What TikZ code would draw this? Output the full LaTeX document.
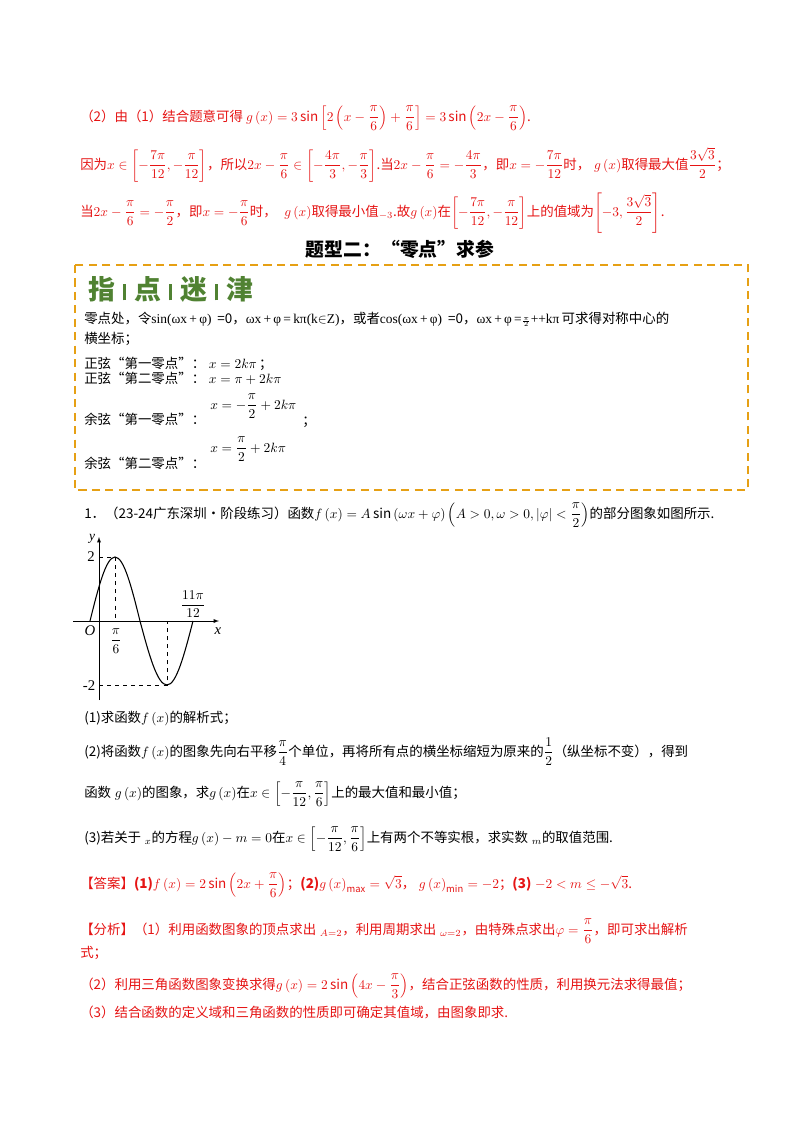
\documentclass[tikz,border=0pt]{standalone}
\usepackage{amsmath}
\usepackage{fontspec}
\setmainfont{Noto Sans CJK SC}
\newfontfamily\serf{Liberation Serif}
\definecolor{rd}{RGB}{230,20,20}
\definecolor{org}{RGB}{230,160,20}
\definecolor{grn}{RGB}{80,130,50}
\newcommand{\gsep}{\hspace{6pt}\rule[-1pt]{2.2pt}{12pt}\hspace{6pt}}
\begin{document}
\begin{tikzpicture}[x=0.744pt,y=-0.744pt,
  t/.style={anchor=base west,inner sep=0pt,font=\fontsize{10}{12}\selectfont},
  r/.style={t,text=rd}]
\useasboundingbox[fill=white] (0,0) rectangle (800,1132);
\node[r] (l1) at (80,121) {（2）由（1）结合题意可得 $g\left(x\right)=3\sin\left[2\left(x-\dfrac{\pi}{6}\right)+\dfrac{\pi}{6}\right]=3\sin\left(2x-\dfrac{\pi}{6}\right)$.};
\node[r] (l2) at (80,169) {因为$x\in\left[-\dfrac{7\pi}{12},-\dfrac{\pi}{12}\right]$，所以$2x-\dfrac{\pi}{6}\in\left[-\dfrac{4\pi}{3},-\dfrac{\pi}{3}\right]$.当$2x-\dfrac{\pi}{6}=-\dfrac{4\pi}{3}$，即$x=-\dfrac{7\pi}{12}$时，\;$g\left(x\right)$取得最大值$\dfrac{3\sqrt3}{2}$；};
\node[r] (l3) at (80,216) {当$2x-\dfrac{\pi}{6}=-\dfrac{\pi}{2}$，即$x=-\dfrac{\pi}{6}$时，\;\;$g\left(x\right)$取得最小值$_{-3}$.故$g\left(x\right)$在$\left[-\dfrac{7\pi}{12},-\dfrac{\pi}{12}\right]$上的值域为$\left[-3,\dfrac{3\sqrt3}{2}\right]$.};
\node[anchor=base,font=\fontsize{14}{16}\selectfont\bfseries] (title) at (400,256) {题型二：“零点”求参};
\draw[org,line width=1.2pt,dash pattern=on 6pt off 4pt] (75,265) rectangle (748,490);
\node[anchor=base west,inner sep=0pt,text=grn,font=\fontsize{20}{22}\selectfont\bfseries] (zd) at (88,299) {指\gsep 点\gsep 迷\gsep 津};
\node[t] (b1) at (84,323) {零点处，令{\serf sin(ωx\,+\,φ)}\;\,=0，{\serf ωx\,+\,φ\,=\,kπ(k}$\in${\serf Z)}，或者{\serf cos(ωx\,+\,φ)}\;\,=0，{\serf ωx\,+\,φ\,=}$\scriptscriptstyle\frac{\pi}{2}${\serf ++kπ}\,可求得对称中心的};
\node[t] (b2) at (84,343) {横坐标；};
\node[t] (b3) at (84,368) {正弦“第一零点”：\;$x=2k\pi$\,；};
\node[t] (b4) at (84,383) {正弦“第二零点”：\;$x=\pi+2k\pi$};
\node[t] (b5) at (84,424) {余弦“第一零点”：};
\node[t] (b5m) at (210,409) {$x=-\dfrac{\pi}{2}+2k\pi$};
\node[t] (b5s) at (302,425) {；};
\node[t] (b6) at (84,468) {余弦“第二零点”：};
\node[t] (b6m) at (210,452) {$x=\dfrac{\pi}{2}+2k\pi$};
\node[t] (p1) at (84,518) {1．（23-24广东深圳·阶段练习）函数$f\left(x\right)=A\sin\left(\omega x+\varphi\right)\left(A>0,\omega>0,\left|\varphi\right|<\dfrac{\pi}{2}\right)$的部分图象如图所示.};
% graph
\draw[-latex] (73,621) -- (219,621);
\draw[-latex] (99,700) -- (99,537);
\draw[dashed,thin] (99,557) -- (115,557) -- (115,621);
\draw[dashed,thin] (99,685) -- (167,685) -- (167,621);
\draw[thick] (90,621) sin (115,557) cos (140,621) sin (167,685) cos (193,621);
\node[font=\itshape\fontsize{10}{10}\selectfont\serf] (ylab) at (92,539) {y};
\node[font=\itshape\fontsize{11}{10}\selectfont\serf] (xlab) at (218,631) {x};
\node[font=\itshape\fontsize{11}{10}\selectfont\serf] (olab) at (90,631) {O};
\node[font=\fontsize{11}{10}\selectfont\serf] (two) at (91,557) {2};
\node[font=\fontsize{11}{10}\selectfont\serf] (mtwo) at (89,686) {-2};
\node[font=\fontsize{10}{10}\selectfont] (pi6) at (116,641) {$\dfrac{\pi}{6}$};
\node[font=\fontsize{10}{10}\selectfont] (pi11) at (193,604) {$\dfrac{11\pi}{12}$};
% questions
\node[t] (q1) at (84,722) {(1)求函数$f\left(x\right)$的解析式；};
\node[t] (q2) at (84,756) {(2)将函数$f\left(x\right)$的图象先向右平移$\dfrac{\pi}{4}$个单位，再将所有点的横坐标缩短为原来的$\dfrac{1}{2}$（纵坐标不变），得到};
\node[t] (q2b) at (84,797) {函数\;$g\left(x\right)$的图象，求$g\left(x\right)$在$x\in\left[-\dfrac{\pi}{12},\dfrac{\pi}{6}\right]$上的最大值和最小值；};
\node[t] (q3) at (84,842) {(3)若关于\;$_x$的方程$g\left(x\right)-m=0$在$x\in\left[-\dfrac{\pi}{12},\dfrac{\pi}{6}\right]$上有两个不等实根，求实数\;$_m$的取值范围.};
\node[r] (ans) at (80,888) {【答案】\textbf{(1)}$f\left(x\right)=2\sin\left(2x+\dfrac{\pi}{6}\right)$；\textbf{(2)}$g\left(x\right)_{\max}=\sqrt3$，\;$g\left(x\right)_{\min}=-2$；\textbf{(3)}\;$-2<m\le-\sqrt3$.};
\node[r] (an1) at (80,934) {【分析】（1）利用函数图象的顶点求出\;$_{A=2}$，利用周期求出\;$_{\omega=2}$，由特殊点求出$\varphi=\dfrac{\pi}{6}$，即可求出解析};
\node[r] (an1b) at (80,957) {式；};
\node[r] (an2) at (80,989) {（2）利用三角函数图象变换求得$g\left(x\right)=2\sin\left(4x-\dfrac{\pi}{3}\right)$，结合正弦函数的性质，利用换元法求得最值；};
\node[r] (an3) at (80,1017) {（3）结合函数的定义域和三角函数的性质即可确定其值域，由图象即求.};
\end{tikzpicture}
\end{document}
